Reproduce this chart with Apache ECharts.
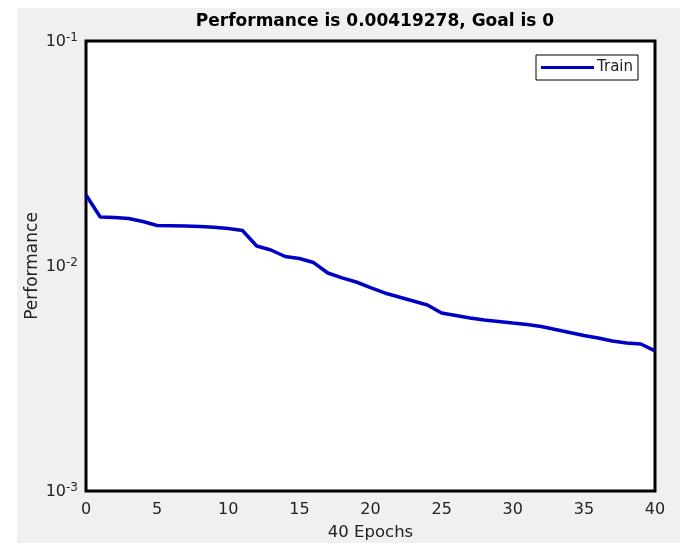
<!DOCTYPE html>
<html>
<head>
<meta charset="utf-8">
<script src="https://cdn.jsdelivr.net/npm/echarts@6/dist/echarts.min.js"></script>
<style>html,body{margin:0;padding:0;background:#fff;}#c{width:680px;height:543px;}</style>
</head>
<body>
<div id="c"></div>
<script>
const titleText = 'Performance is 0.00419278, Goal is 0';
const epochs = Array.from({length: 41}, (_, i) => i);
const trainPerf = [
  0.02068, 0.01651, 0.01643, 0.01626, 0.01577, 0.01514, 0.01511, 0.01506, 0.01499, 0.01486,
  0.01468, 0.01438, 0.01227, 0.01178, 0.01102, 0.01080, 0.01036, 0.00931, 0.00885, 0.00849,
  0.00802, 0.00759, 0.00728, 0.00699, 0.00671, 0.00618, 0.00603, 0.00587, 0.00575, 0.00567,
  0.00558, 0.00550, 0.00538, 0.00522, 0.00506, 0.00491, 0.00479, 0.00464, 0.00455, 0.00450,
  0.00419278
];
const xTicks = [0, 5, 10, 15, 20, 25, 30, 35, 40];
const yExponents = [-3, -2, -1];
const seriesName = 'Train';
const xLabel = '40 Epochs';
const yLabel = 'Performance';

const chart = echarts.init(document.getElementById('c'));
const font = 'DejaVu Sans';
chart.setOption({
  backgroundColor: '#fff',
  animation: false,
  graphic: [{
    type: 'rect', z: -10, silent: true,
    shape: {x: 17, y: 8, width: 663, height: 535},
    style: {fill: '#f0f0f0'}
  }],
  title: {
    text: titleText, left: 370, top: 8, textAlign: 'center',
    textStyle: {fontFamily: font, fontSize: 17, fontWeight: 'bold', color: '#000'}
  },
  legend: {
    data: [seriesName], right: 42, top: 55,
    backgroundColor: '#fff', borderColor: '#000', borderWidth: 1, borderRadius: 0,
    padding: [5, 5, 5, 5], itemWidth: 53, itemHeight: 3, itemGap: 4,
    icon: 'rect',
    textStyle: {fontFamily: font, fontSize: 15, color: '#222', padding: [0, 0, 0, -2]}
  },
  grid: {
    left: 86, right: 25, top: 41, bottom: 52,
    outerBoundsMode: 'none', containLabel: false,
    show: true, backgroundColor: '#fff', borderColor: '#000', borderWidth: 3
  },
  xAxis: {
    type: 'value', min: 0, max: 40, interval: 5,
    name: xLabel, nameLocation: 'middle', nameGap: 33, nameMoveOverlap: false,
    nameTextStyle: {fontFamily: font, fontSize: 16.5, color: '#222'},
    axisLine: {show: false}, axisTick: {show: false}, splitLine: {show: false},
    axisLabel: {
      fontFamily: font, fontSize: 16, color: '#222', margin: 11,
      formatter: v => xTicks.includes(v) ? String(v) : ''
    }
  },
  yAxis: {
    type: 'log', logBase: 10, min: Math.pow(10, yExponents[0]), max: Math.pow(10, yExponents[yExponents.length - 1]),
    name: yLabel, nameLocation: 'middle', nameGap: 45, nameRotate: 90, nameMoveOverlap: false,
    nameTextStyle: {fontFamily: font, fontSize: 17, color: '#222'},
    axisLine: {show: false}, axisTick: {show: false}, splitLine: {show: false},
    axisLabel: {
      margin: 8,
      formatter: v => {
        const e = Math.round(Math.log10(v));
        return '{b|10}{s|' + e + '}';
      },
      rich: {
        b: {fontFamily: font, fontSize: 16, color: '#222', verticalAlign: 'bottom', lineHeight: 18},
        s: {fontFamily: font, fontSize: 12, color: '#222', verticalAlign: 'top', padding: [0, 0, 9, 0], lineHeight: 18}
      }
    }
  },
  series: [{
    name: seriesName, type: 'line',
    data: epochs.map((e, i) => [e, trainPerf[i]]),
    showSymbol: false, symbol: 'none',
    lineStyle: {color: '#0000c4', width: 3.5},
    itemStyle: {color: '#0000c4'}
  }]
});
</script>
</body>
</html>
